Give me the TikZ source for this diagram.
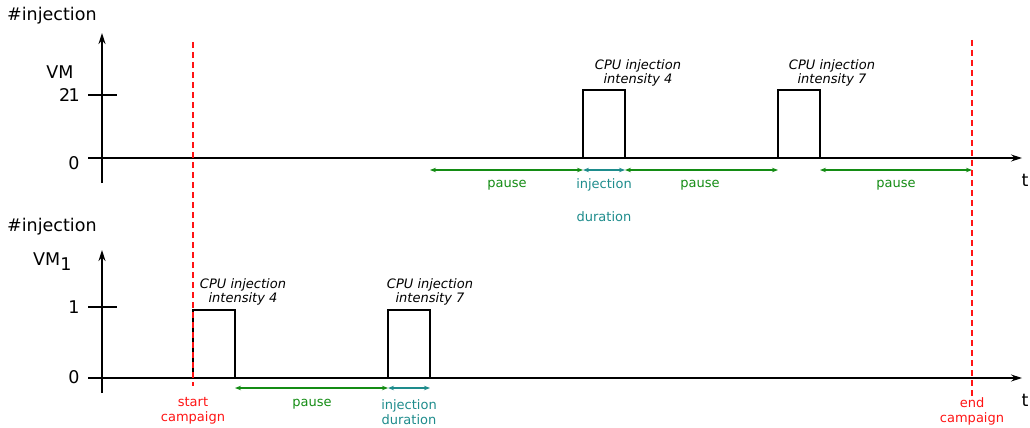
\documentclass[tikz,border=0pt]{standalone}
\usepackage{fontspec}
\setmainfont{DejaVu Sans}
\usetikzlibrary{arrows.meta}
\definecolor{pgreen}{RGB}{20,140,20}
\definecolor{pteal}{RGB}{30,140,140}
\definecolor{pred}{RGB}{255,20,20}
\tikzset{
 biglabel/.style={font=\fontsize{17.5}{20}\selectfont, inner sep=0pt},
 smalllabel/.style={font=\fontsize{13}{15}\selectfont, inner sep=0pt, align=center},
 pulselabel/.style={font=\fontsize{13}{14}\selectfont\itshape, inner sep=0pt, align=center},
 myaxis/.style={line width=1.6pt, -{Stealth[length=11pt,width=7pt]}},
 tline/.style={line width=1.1pt, -{Stealth[length=11pt,width=7pt]}},
 tickline/.style={line width=1.5pt},
 mybase/.style={line width=2.8pt},
 pulsebox/.style={line width=1.6pt},
 pausearr/.style={pgreen, line width=1.2pt, {Stealth[length=6pt,width=4.5pt]}-{Stealth[length=6pt,width=4.5pt]}},
 durarr/.style={pausearr, draw=pteal, color=pteal},
 campaign/.style={pred, line width=1.4pt, dash pattern=on 6pt off 4pt},
}
\begin{document}
\begin{tikzpicture}[x=1pt,y=-1pt]
\useasboundingbox (0,0) rectangle (1030,428);
% ---------- coordinates, top plot
\coordinate (TA0) at (102,183); \coordinate (TA1) at (102,33);
\coordinate (TB0) at (88,158);  \coordinate (TB1) at (1022,158);
\coordinate (TT0) at (88,95);   \coordinate (TT1) at (117,95);
\coordinate (TS) at (102,158);  \coordinate (TE) at (972,158);
\coordinate (TP1a) at (583,158); \coordinate (TP1b) at (583,90); \coordinate (TP1c) at (625,90); \coordinate (TP1d) at (625,158);
\coordinate (TP2a) at (778,158); \coordinate (TP2b) at (778,90); \coordinate (TP2c) at (820,90); \coordinate (TP2d) at (820,158);
\coordinate (TR0) at (430,170); \coordinate (TR1) at (583,170); \coordinate (TR2) at (625,170);
\coordinate (TR3) at (778,170); \coordinate (TR4) at (820,170); \coordinate (TR5) at (972,170);
% ---------- coordinates, bottom plot
\coordinate (BA0) at (102,393); \coordinate (BA1) at (102,250);
\coordinate (BB0) at (88,378);  \coordinate (BB1) at (1022,378);
\coordinate (BT0) at (88,307);  \coordinate (BT1) at (117,307);
\coordinate (BS) at (102,378);  \coordinate (BE) at (972,378);
\coordinate (BP1a) at (193,378); \coordinate (BP1b) at (193,310); \coordinate (BP1c) at (235,310); \coordinate (BP1d) at (235,378);
\coordinate (BP2a) at (388,378); \coordinate (BP2b) at (388,310); \coordinate (BP2c) at (430,310); \coordinate (BP2d) at (430,378);
\coordinate (BR0) at (235,388); \coordinate (BR1) at (388,388); \coordinate (BR2) at (430,388);
% ---------- campaign lines
\coordinate (CS0) at (193,42); \coordinate (CS1) at (193,386);
\coordinate (CE0) at (972,40); \coordinate (CE1) at (972,400);

% top plot
\draw[tline] (TB0) -- (TB1);
\draw[myaxis] (TA0) -- (TA1);
\draw[tickline] (TT0) -- (TT1);
\draw[mybase] (TS) -- (TE);
\draw[pulsebox] (TP1a) -- (TP1b) -- (TP1c) -- (TP1d);
\draw[pulsebox] (TP2a) -- (TP2b) -- (TP2c) -- (TP2d);
\draw[pausearr] (TR0) -- (TR1);
\draw[durarr] (TR1) -- (TR2);
\draw[pausearr] (TR2) -- (TR3);
\draw[pausearr] (TR4) -- (TR5);

% bottom plot
\draw[tline] (BB0) -- (BB1);
\draw[myaxis] (BA0) -- (BA1);
\draw[tickline] (BT0) -- (BT1);
\draw[mybase] (BS) -- (BE);
\draw[pulsebox] (BP1a) -- (BP1b) -- (BP1c) -- (BP1d);
\draw[pulsebox] (BP2a) -- (BP2b) -- (BP2c) -- (BP2d);
\draw[pausearr] (BR0) -- (BR1);
\draw[durarr] (BR1) -- (BR2);

% campaign lines
\draw[campaign] (CS0) -- (CS1);
\draw[campaign] (CE0) -- (CE1);

% labels top
\node[biglabel, anchor=west] (tinj) at (7,16) {\#injection};
\node[biglabel] (tvm) at (60,72) {VM};
\node[biglabel, anchor=east] (t21) at (80,95) {2\kern-1.5pt1};
\node[biglabel] (t0) at (74,163) {0};
\node[biglabel] (tt) at (1025,180) {t};
\node[pulselabel] (tc1) at (638,73) {CPU injection\\intensity 4};
\node[pulselabel] (tc2) at (832,73) {CPU injection\\intensity 7};
\node[smalllabel, pgreen] (tpa1) at (507,185) {pause};
\node[smalllabel, pteal] (tin) at (604,185) {injection};
\node[smalllabel, pteal] (tdu) at (604,217) {duration};
\node[smalllabel, pgreen] (tpa2) at (700,185) {pause};
\node[smalllabel, pgreen] (tpa3) at (896,185) {pause};

% labels bottom
\node[biglabel, anchor=west] (binj) at (7,227) {\#injection};
\node[biglabel, anchor=west] (bvm) at (33,262) {VM\raisebox{-5pt}{1}};
\node[biglabel] (b1) at (74,307) {1};
\node[biglabel] (b0) at (74,377) {0};
\node[biglabel] (bt) at (1025,400) {t};
\node[pulselabel] (bc1) at (243,292) {CPU injection\\intensity 4};
\node[pulselabel] (bc2) at (430,292) {CPU injection\\intensity 7};
\node[smalllabel, pgreen] (bpa) at (312,404) {pause};
\node[smalllabel, pteal] (bid) at (409,412) {injection\\duration};
\node[smalllabel, pred] (bst) at (193,411) {start\\campaign};
\node[smalllabel, pred] (ben) at (972,411) {end\\campaign};
\end{tikzpicture}
\end{document}
